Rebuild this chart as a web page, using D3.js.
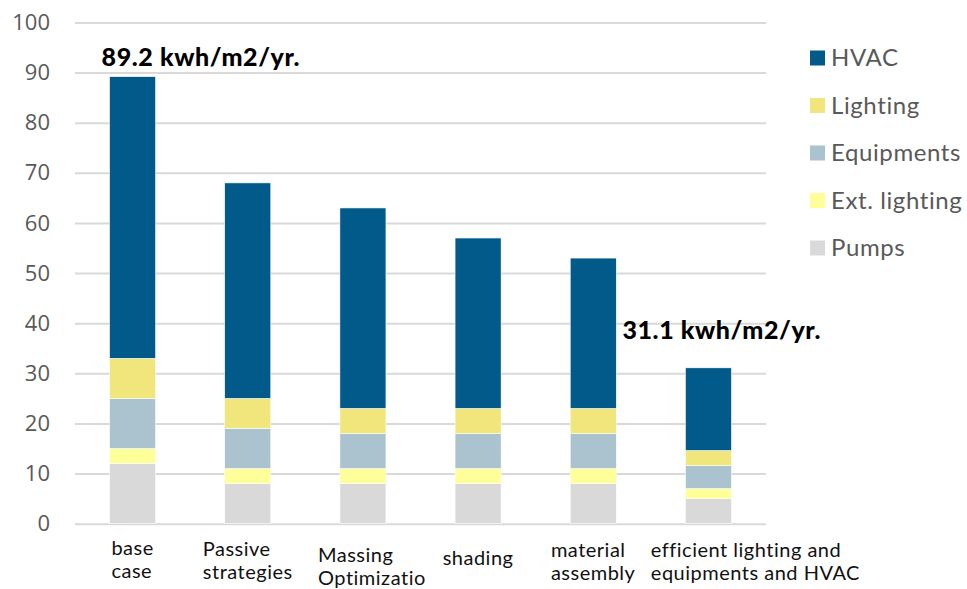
<!DOCTYPE html>
<html>
<head>
<meta charset="utf-8">
<script src="https://cdn.jsdelivr.net/npm/d3@7"></script>
<style>
  html, body { margin: 0; padding: 0; background: #fff; }
  svg { display: block; }
</style>
</head>
<body>
<svg id="chart" width="967" height="589"></svg>
<script>
// Energy use intensity by design step (kWh/m2/yr), stacked by end use
const categories = ["base case", "Passive strategies", "Massing Optimizatio", "shading", "material assembly", "efficient lighting and equipments and HVAC"];
const categoryLines = [
  ["base", "case"],
  ["Passive", "strategies"],
  ["Massing", "Optimizatio"],
  ["shading"],
  ["material", "assembly"],
  ["efficient lighting and", "equipments and HVAC"]
];
const seriesNames = ["Pumps", "Ext. lighting", "Equipments", "Lighting", "HVAC"];
const pumps        = [12, 8, 8, 8, 8, 5];
const extLighting  = [3, 3, 3, 3, 3, 2];
const equipments   = [10, 8, 7, 7, 7, 4.6];
const lighting     = [8, 6, 5, 5, 5, 3];
const hvac         = [56.2, 43, 40, 34, 30, 16.5];
const yTicks       = [0, 10, 20, 30, 40, 50, 60, 70, 80, 90, 100];
const callouts     = [{ index: 0, text: "89.2 kwh/m2/yr." }, { index: 5, text: "31.1 kwh/m2/yr." }];
const legendOrder  = ["HVAC", "Lighting", "Equipments", "Ext. lighting", "Pumps"];

const colors = {
  "HVAC": "#015a8a",
  "Lighting": "#f1e67b",
  "Equipments": "#abc3cf",
  "Ext. lighting": "#ffff99",
  "Pumps": "#d9d9d9"
};

const seriesValues = [pumps, extLighting, equipments, lighting, hvac];
const rows = categories.map((c, i) => {
  const r = { category: c };
  seriesNames.forEach((s, k) => { r[s] = seriesValues[k][i]; });
  return r;
});

const svg = d3.select("#chart");
const plot = { left: 75, right: 766, top: 22.5, bottom: 523.7 };

const x = d3.scaleBand().domain(categories).range([plot.left, plot.right]).paddingInner(0.6).paddingOuter(0.3);
const y = d3.scaleLinear().domain([0, 100]).range([plot.bottom, plot.top]);

// gridlines and value labels
const yAxis = d3.axisLeft(y).tickValues(yTicks).tickSize(-(plot.right - plot.left)).tickFormat(d3.format("d"));
const gy = svg.append("g").attr("transform", `translate(${plot.left},0)`).call(yAxis);
gy.select(".domain").remove();
gy.selectAll(".tick line").attr("stroke", "#d9d9d9").attr("stroke-width", 2);
gy.selectAll(".tick text")
  .attr("x", -25)
  .attr("fill", "#595959")
  .style("font-family", "'Open Sans', sans-serif")
  .style("font-size", "22px");

// stacked bars
const stack = d3.stack().keys(seriesNames);
const layers = stack(rows);
svg.append("g").selectAll("g")
  .data(layers)
  .join("g")
  .attr("fill", d => colors[d.key])
  .selectAll("rect")
  .data(d => d.map(v => ({ v, cat: v.data.category })))
  .join("rect")
  .attr("x", d => x(d.cat))
  .attr("width", x.bandwidth())
  .attr("y", d => y(d.v[1]))
  .attr("height", d => y(d.v[0]) - y(d.v[1]))
  .attr("stroke", "#ffffff")
  .attr("stroke-width", 0.6);

// category labels: left-aligned block centred on its band (wrap width capped);
// blocks wider than the band start at the band's left edge
const labelFont = "Lato, 'Noto Sans', sans-serif";
const labelBaseline = [555, 556, 562, 565, 557, 557];
const wrapWidth = x.step() * 0.78;
const lg = svg.append("g");
categoryLines.forEach((lines, i) => {
  const t = lg.append("text")
    .attr("fill", "#111")
    .style("font-family", labelFont)
    .style("font-size", "20px")
    .style("letter-spacing", "0.5px");
  lines.forEach((ln, j) => {
    t.append("tspan").attr("x", 0).attr("y", labelBaseline[i] + j * 23).text(ln);
  });
  const full = t.node().getBBox().width;
  const bandStart = x(categories[i]) - x.step() * x.paddingInner() / 2;
  const center = x(categories[i]) + x.bandwidth() / 2;
  const left = full > x.step() ? bandStart : center - Math.min(full, wrapWidth) / 2;
  t.selectAll("tspan").attr("x", left);
});

// total callouts
callouts.forEach(c => {
  const total = seriesValues.reduce((s, arr) => s + arr[c.index], 0);
  const cx = x(categories[c.index]);
  const pos = c.index === 0
    ? { x: cx - 8, y: y(total) - 11 }
    : { x: cx - 63, y: y(total) - 29 };
  svg.append("text")
    .attr("x", pos.x)
    .attr("y", pos.y)
    .attr("fill", "#000")
    .style("font-family", "Lato, sans-serif")
    .style("font-weight", "900")
    .style("font-size", "25px")
    .style("letter-spacing", "0.6px")
    .text(c.text);
});

// legend
const legend = svg.append("g").attr("transform", "translate(810,58)");
legendOrder.forEach((name, i) => {
  const g = legend.append("g").attr("transform", `translate(0,${i * 47.5})`);
  g.append("rect").attr("x", 0).attr("y", -7.5).attr("width", 15).attr("height", 15).attr("fill", colors[name]);
  g.append("text")
    .attr("x", 21)
    .attr("y", 0)
    .attr("dy", "0.35em")
    .attr("fill", "#595959")
    .style("font-family", labelFont)
    .style("font-size", "24px")
    .style("letter-spacing", "0.6px")
    .text(name);
});
</script>
</body>
</html>
